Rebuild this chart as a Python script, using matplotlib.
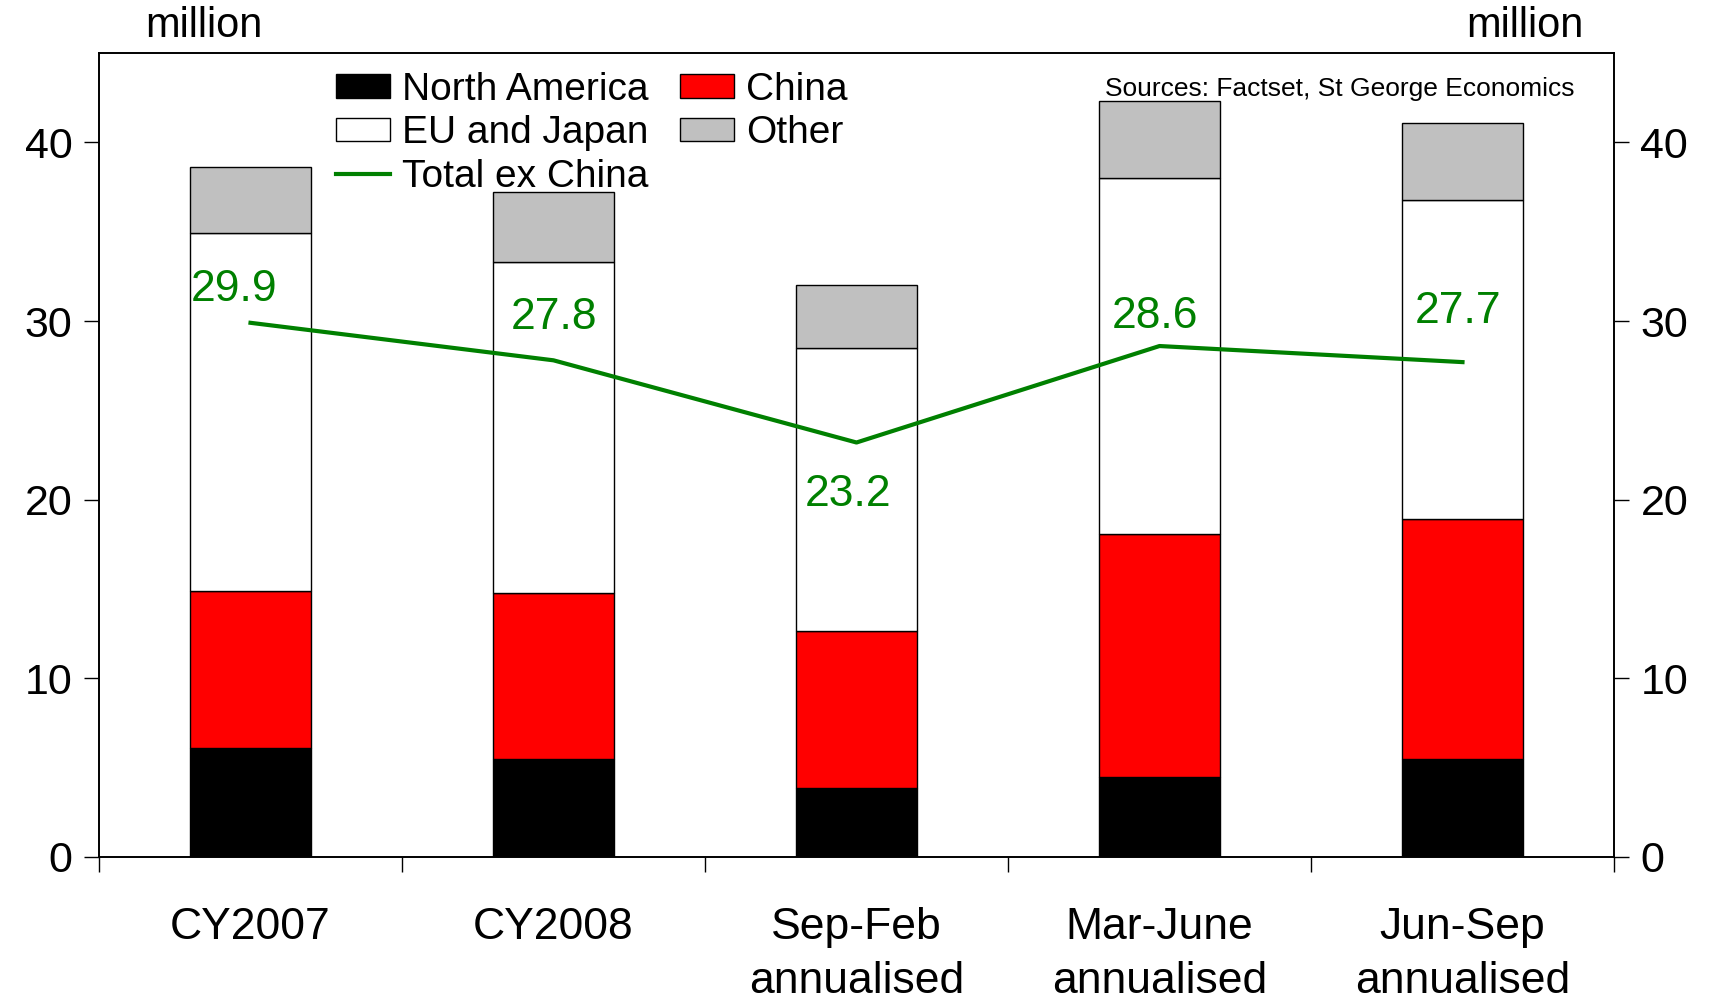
import matplotlib
matplotlib.use("Agg")
import matplotlib.pyplot as plt
import numpy as np

categories = ['CY2007', 'CY2008', 'Sep-Feb\nannualised', 'Mar-June\nannualised', 'Jun-Sep\nannualised']
north_america = [6.1, 5.5, 3.85, 4.45, 5.5]
china = [8.8, 9.3, 8.8, 13.65, 13.4]
eu_japan = [20.0, 18.5, 15.85, 19.9, 17.9]
other = [3.7, 3.9, 3.5, 4.3, 4.3]
total_ex_china = [29.9, 27.8, 23.2, 28.6, 27.7]

plt.rcParams['font.family'] = ['Liberation Sans', 'DejaVu Sans']

fig = plt.figure(figsize=(17.13, 10.01), dpi=100)
ax = fig.add_axes([0.0578, 0.1439, 0.9422 - 0.0578, 0.947 - 0.1439])

x = np.arange(len(categories))
w = 0.4
b1 = np.array(north_america)
b2 = b1 + np.array(china)
b3 = b2 + np.array(eu_japan)

h_na = ax.bar(x, north_america, w, color='black', edgecolor='black', lw=1, label='North America')
h_cn = ax.bar(x, china, w, bottom=b1, color='#ff0000', edgecolor='black', lw=1, label='China')
h_eu = ax.bar(x, eu_japan, w, bottom=b2, color='white', edgecolor='black', lw=1, label='EU and Japan')
h_ot = ax.bar(x, other, w, bottom=b3, color='#c0c0c0', edgecolor='black', lw=1, label='Other')
h_tot, = ax.plot(x, total_ex_china, color='#008000', lw=3, label='Total ex China')

# label offsets (pixels) relative to line points
offs = [(-16, 33), (0, 43), (-8, -52), (-4, 30), (-4, 51)]
for xi, v, (dx, dy) in zip(x, total_ex_china, offs):
    ax.annotate(f'{v:.1f}', (xi, v), xytext=(dx * 0.72, dy * 0.72), textcoords='offset points',
                ha='center', va='center', color='#008000', fontsize=32)

ax.set_xlim(-0.5, 4.5)
ax.set_ylim(0, 45)
ax.set_yticks([0, 10, 20, 30, 40])
ax.tick_params(axis='y', labelsize=31, length=11, width=1, direction='out', pad=8)
ax.set_xticks(x)
ax.set_xticklabels(categories, fontsize=32, linespacing=1.4)
ax.set_xticks(np.arange(-0.5, 5, 1), minor=True)
ax.tick_params(axis='x', which='major', length=0, pad=36)
ax.tick_params(axis='x', which='minor', length=11, width=1, direction='out')

ax2 = ax.twinx()
ax2.set_ylim(0, 45)
ax2.set_yticks([0, 10, 20, 30, 40])
ax2.tick_params(axis='y', labelsize=31, length=11, width=1, direction='out', pad=8)

for a in (ax, ax2):
    for s in a.spines.values():
        s.set_linewidth(1.2)

ax.legend([h_na, h_eu, h_tot, h_cn, h_ot],
          ['North America', 'EU and Japan', 'Total ex China', 'China', 'Other'],
          ncol=2, loc='upper left', bbox_to_anchor=(0.141, 1.006), frameon=False, fontsize=28,
          handlelength=1.4, handleheight=0.55, handletextpad=0.3, columnspacing=0.8,
          labelspacing=0.2, borderaxespad=0.2)

ax.text(0.974, 0.955, 'Sources: Factset, St George Economics', transform=ax.transAxes,
        ha='right', va='center', fontsize=19)
fig.text(204 / 1713, 1 - 26 / 1001, 'million', ha='center', va='center', fontsize=30)
fig.text(1525 / 1713, 1 - 26 / 1001, 'million', ha='center', va='center', fontsize=30)

fig.savefig('out.png', dpi=100)
